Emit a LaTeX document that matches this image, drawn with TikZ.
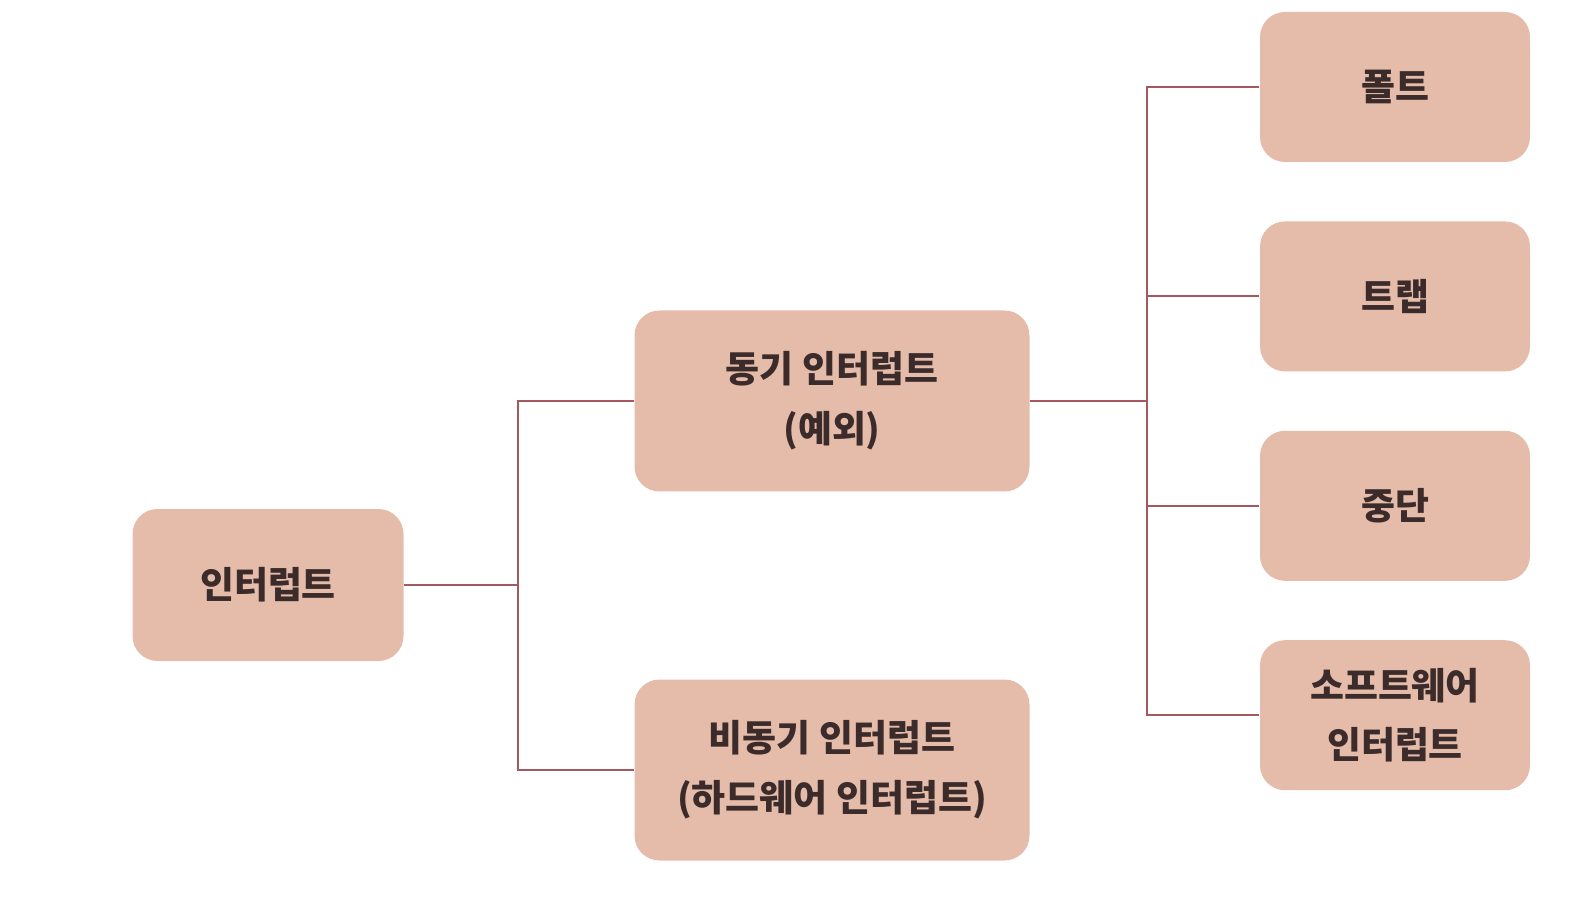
\documentclass[tikz,border=0pt]{standalone}
\usepackage{fontspec}
\newfontfamily\krfont{Noto Sans CJK KR}
\usepackage{tikz}
\usetikzlibrary{positioning}
\usepackage{xcolor}
\definecolor{boxfill}{HTML}{E5BCA9}
\definecolor{linkcol}{RGB}{166,88,96}
\definecolor{textcol}{HTML}{3B2B2A}

\begin{document}
\begin{tikzpicture}[
    x=1cm, y=1cm,
    every node/.style={rounded corners=0.25cm, fill=boxfill, text=textcol, align=center,
      font=\krfont\bfseries\fontsize{10.5}{17}\selectfont, inner sep=0pt},
    rootnode/.style={minimum width=2.71cm, minimum height=1.52cm},
    midnode/.style={minimum width=3.95cm, minimum height=1.81cm},
    leafnode/.style={minimum width=2.70cm, minimum height=1.50cm},
    link/.style={draw=linkcol, line width=0.6pt}
]
\useasboundingbox (0,0) rectangle (15.9,9);
% Tree vertices
\node[rootnode] (intr) at (2.68,3.15) {인터럽트};
\node[midnode] (sync) at (8.32,4.99) {동기 인터럽트\\(예외)};
\node[midnode] (async) at (8.32,1.30) {비동기 인터럽트\\(하드웨어 인터럽트)};
\node[leafnode] (fault) at (13.95,8.13) {폴트};
\node[leafnode, below=0.58cm of fault] (trap) {트랩};
\node[leafnode, below=0.58cm of trap] (abort) {중단};
\node[leafnode, below=0.58cm of abort] (swint) {소프트웨어\\인터럽트};
% Edges
\draw[link] (intr.east) -- ++(1.14,0) coordinate (tr1) |- (sync.west);
\draw[link] (tr1) |- (async.west);
\draw[link] (sync.east) -- ++(1.17,0) coordinate (tr2) |- (fault.west);
\draw[link] (tr2) |- (trap.west);
\draw[link] (tr2) |- (abort.west);
\draw[link] (tr2) |- (swint.west);

\end{tikzpicture}
\end{document}
